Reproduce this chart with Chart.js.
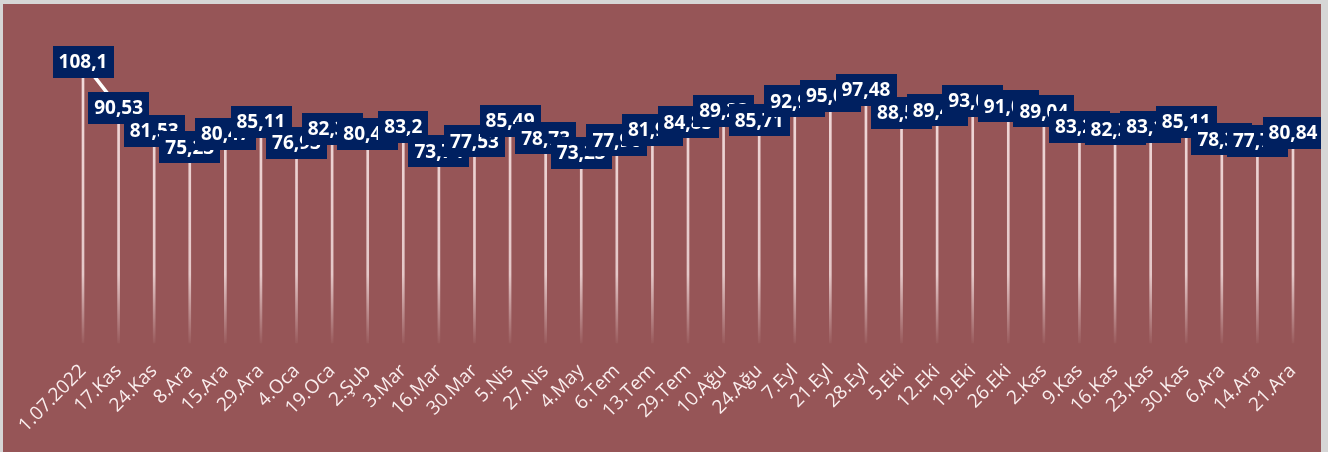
<!DOCTYPE html>
<html><head><meta charset="utf-8">
<script src="https://cdn.jsdelivr.net/npm/chart.js@4.4.1/dist/chart.umd.min.js"></script>
<style>
html,body{margin:0;padding:0;background:#d6d6d6;width:1328px;height:452px;overflow:hidden}
#wrap{position:absolute;left:3px;top:4px;width:1318px;height:448px;background:#965557}
#c{display:block}
</style></head><body>
<div id="wrap"><canvas id="c" width="1318" height="448"></canvas></div>
<script>
const categories = ["1.07.2022","17.Kas","24.Kas","8.Ara","15.Ara","29.Ara","4.Oca","19.Oca","2.Şub","3.Mar","16.Mar","30.Mar","5.Nis","27.Nis","4.May","6.Tem","13.Tem","29.Tem","10.Ağu","24.Ağu","7.Eyl","21.Eyl","28.Eyl","5.Eki","12.Eki","19.Eki","26.Eki","2.Kas","9.Kas","16.Kas","23.Kas","30.Kas","6.Ara","14.Ara","21.Ara"];
const values = [108.1,90.53,81.53,75.23,80.47,85.11,76.93,82.35,80.45,83.2,73.74,77.53,85.49,78.73,73.23,77.96,81.93,84.85,89.23,85.71,92.95,95.06,97.48,88.53,89.45,93.06,91.02,89.04,83.24,82.26,83.13,85.11,78.36,77.74,80.84];

function fmt(v){ return String(v).replace('.', ','); }

const labelPlugin = {
  id: 'vlabels',
  afterDatasetsDraw(chart){
    const meta = chart.getDatasetMeta(1);
    const c = chart.ctx;
    c.save();
    c.font = 'bold 19px "Open Sans"';
    c.textAlign = 'center';
    c.textBaseline = 'middle';
    meta.data.forEach((pt, i) => {
      const txt = fmt(values[i]);
      const w = c.measureText(txt).width + 12;
      const h = 32;
      c.fillStyle = '#002060';
      c.fillRect(Math.round(pt.x - w/2), Math.round(pt.y - h/2), Math.round(w), h);
      c.fillStyle = '#ffffff';
      c.fillText(txt, pt.x, pt.y + 1);
    });
    c.restore();
  }
};

new Chart(document.getElementById('c'), {
  type: 'line',
  data: {
    labels: categories,
    datasets: [
      {
        type: 'bar',
        data: values,
        order: 2,
        barThickness: 2,
        clip: false,
        backgroundColor: (ctx) => {
          const ca = ctx.chart.chartArea;
          if (!ca) return 'rgba(255,235,235,0.85)';
          const g = ctx.chart.ctx.createLinearGradient(0, ca.top, 0, ca.bottom + 4);
          g.addColorStop(0, 'rgba(255,238,238,0.9)');
          g.addColorStop(0.78, 'rgba(255,238,238,0.75)');
          g.addColorStop(1, 'rgba(255,238,238,0)');
          return g;
        }
      },
      {
        type: 'line',
        data: values,
        order: 1,
        borderColor: '#ffffff',
        borderWidth: 3.5,
        pointRadius: 0,
        tension: 0,
        clip: false
      }
    ]
  },
  options: {
    responsive: false,
    animation: false,
    devicePixelRatio: 1,
    layout: { padding: { left: 80, right: 28, top: 14, bottom: 0 } },
    plugins: { legend: { display: false }, tooltip: { enabled: false } },
    scales: {
      x: {
        offset: false,
        grid: { display: false, drawTicks: false },
        border: { display: false },
        afterFit: (s) => { s.height = 109; s.paddingLeft = 0; s.paddingRight = 0; },
        ticks: {
          autoSkip: false,
          maxRotation: 45,
          minRotation: 45,
          padding: 17,
          color: 'rgba(255,245,245,0.95)',
          font: { family: '"Open Sans"', size: 19 }
        }
      },
      y: {
        display: false,
        min: 0,
        max: 125
      }
    }
  },
  plugins: [labelPlugin]
});
</script>
</body></html>
